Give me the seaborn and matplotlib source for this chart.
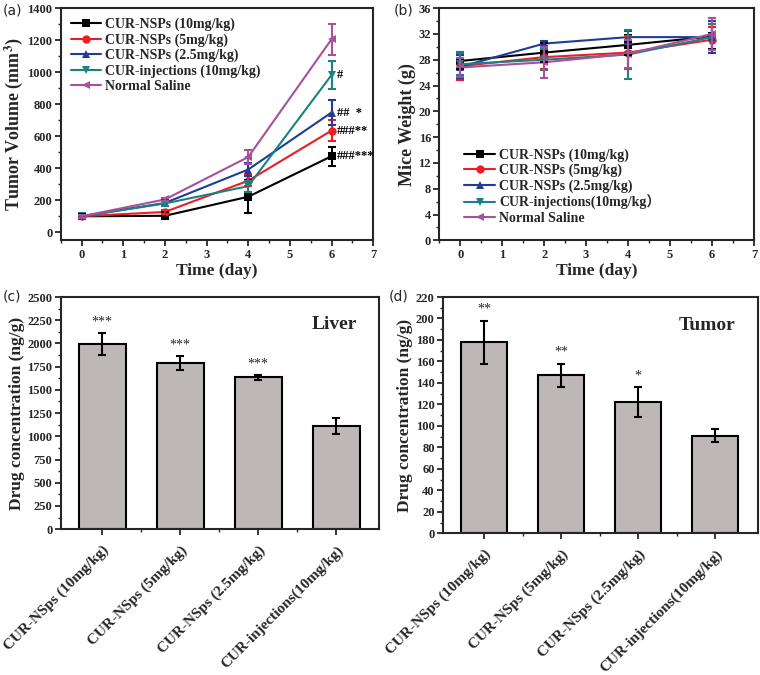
import numpy as np
import pandas as pd
import seaborn as sns
import matplotlib.pyplot as plt
from matplotlib.ticker import MultipleLocator

# data
days = [0, 2, 4, 6]
groups = ['CUR-NSPs (10mg/kg)', 'CUR-NSPs (5mg/kg)', 'CUR-NSPs (2.5mg/kg)',
          'CUR-injections (10mg/kg)', 'Normal Saline']
groups_b = ['CUR-NSPs (10mg/kg)', 'CUR-NSPs (5mg/kg)', 'CUR-NSPs (2.5mg/kg)',
            'CUR-injections(10mg/kg\uff09', 'Normal Saline']
colors = ['#000000', '#ee1c25', '#1f3d96', '#1a8282', '#a84f9e']
markers = ['s', 'o', '^', 'v', '<']

tumor_vol = [[100, 103, 222, 475],
             [100, 127, 322, 635],
             [100, 183, 392, 748],
             [100, 180, 288, 982],
             [100, 205, 470, 1205]]
tumor_err = [[12, 22, 102, 58],
             [10, 15, 35, 68],
             [10, 18, 40, 75],
             [10, 15, 35, 88],
             [10, 12, 42, 95]]
annot_a = ['###***', '###**', '##  *', '#', '']

weight = [[27.8, 29.1, 30.3, 31.6],
          [27.0, 28.4, 29.1, 31.1],
          [26.9, 30.5, 31.5, 31.5],
          [27.3, 28.0, 28.8, 31.5],
          [26.8, 27.6, 28.9, 32.0]]
weight_err = [[1.3, 1.5, 1.5, 2.0],
              [2.2, 1.8, 2.5, 2.0],
              [1.8, 0.4, 1.0, 2.5],
              [1.7, 1.6, 3.8, 2.0],
              [1.5, 2.4, 2.2, 2.5]]

bar_labels = ['CUR-NSps (10mg/kg)', 'CUR-NSps (5mg/kg)', 'CUR-NSps (2.5mg/kg)',
              'CUR-injections(10mg/kg)']
liver = [1995, 1790, 1635, 1110]
liver_err = [120, 75, 25, 90]
liver_sig = ['***', '***', '***', '']
tumor = [178, 147, 122, 91]
tumor_err2 = [20, 11, 14, 6]
tumor_sig = ['**', '**', '*', '']

sns.set_style('ticks')
plt.rcParams['font.family'] = ['Liberation Serif', 'Noto Sans CJK SC', 'DejaVu Serif']
plt.rcParams['font.weight'] = 'bold'
plt.rcParams['mathtext.fontset'] = 'stix'
plt.rcParams['axes.linewidth'] = 1.5
plt.rcParams['xtick.major.width'] = 1.3
plt.rcParams['ytick.major.width'] = 1.3
plt.rcParams['xtick.minor.width'] = 1.0
plt.rcParams['ytick.minor.width'] = 1.0
plt.rcParams['xtick.major.size'] = 4
plt.rcParams['ytick.major.size'] = 4
plt.rcParams['xtick.minor.size'] = 2
plt.rcParams['ytick.minor.size'] = 2

fig = plt.figure(figsize=(7.6, 6.75), dpi=100)
axa = fig.add_axes([0.080, 0.644, 0.411, 0.344])
axb = fig.add_axes([0.578, 0.644, 0.414, 0.344])
axc = fig.add_axes([0.080, 0.216, 0.419, 0.344])
axd = fig.add_axes([0.583, 0.210, 0.414, 0.350])


def bold_ticks(ax, axis='both'):
    labs = []
    if axis in ('both', 'x'):
        labs += ax.get_xticklabels()
    if axis in ('both', 'y'):
        labs += ax.get_yticklabels()
    for lab in labs:
        lab.set_fontweight('bold')
        lab.set_family(['Liberation Serif', 'DejaVu Serif'])


def line_panel(ax, values, errs, names, ylab):
    rows = []
    for g, vals in zip(names, values):
        for d, v in zip(days, vals):
            rows.append({'day': d, 'val': v, 'group': g})
    df = pd.DataFrame(rows)
    sns.lineplot(data=df, x='day', y='val', hue='group', style='group',
                 palette=colors, markers=markers, dashes=False, lw=1.5,
                 markersize=6, markeredgewidth=0, ax=ax)
    for i in range(len(names)):
        ax.errorbar(days, values[i], yerr=errs[i], fmt='none', ecolor=colors[i],
                    elinewidth=1.5, capsize=3, capthick=1.5)
    ax.set_xlim(-0.5, 7)
    ax.xaxis.set_major_locator(MultipleLocator(1))
    ax.xaxis.set_minor_locator(MultipleLocator(0.5))
    ax.set_xlabel('Time (day)', fontsize=12.5, fontweight='bold', labelpad=2)
    ax.set_ylabel(ylab, fontsize=13, fontweight='bold', labelpad=2)
    ax.tick_params(labelsize=9, pad=2)
    for s in ax.spines.values():
        s.set_visible(True)


line_panel(axa, tumor_vol, tumor_err, groups, 'Tumor Volume (mm$^\\mathbf{3}$)')
axa.set_ylim(-50, 1400)
axa.yaxis.set_major_locator(MultipleLocator(200))
axa.yaxis.set_minor_locator(MultipleLocator(100))
bold_ticks(axa)
axa.legend(loc='upper left', frameon=False, fontsize=10, handlelength=2.2,
           handletextpad=0.3, labelspacing=0.15, borderaxespad=0.3,
           bbox_to_anchor=(0.0, 1.0))
for i, t in enumerate(annot_a):
    if t:
        axa.text(6.12, tumor_vol[i][3], t, fontsize=9, va='center', ha='left',
                 color='black')

line_panel(axb, weight, weight_err, groups_b, 'Mice Weight (g)')
axb.set_ylim(0, 36)
axb.yaxis.set_major_locator(MultipleLocator(4))
axb.yaxis.set_minor_locator(MultipleLocator(2))
bold_ticks(axb)
axb.legend(loc='upper left', frameon=False, fontsize=10, handlelength=2.2,
           handletextpad=0.3, labelspacing=0.15, bbox_to_anchor=(0.04, 0.45))


def bar_panel(ax, vals, errs, sig, top, major, minor, name):
    sns.barplot(x=bar_labels, y=vals, color='#bdb7b7', edgecolor='black',
                linewidth=1.5, width=0.6, saturation=1, ax=ax)
    ax.errorbar(range(len(vals)), vals, yerr=errs, fmt='none', ecolor='black',
                elinewidth=1.5, capsize=3, capthick=1.5)
    for i, s in enumerate(sig):
        if s:
            ax.text(i, vals[i] + errs[i] + top * 0.02, s, ha='center', va='bottom',
                    fontsize=10, fontweight='normal')
    ax.set_xlim(-0.53, 3.55)
    ax.set_ylim(0, top)
    ax.yaxis.set_major_locator(MultipleLocator(major))
    ax.yaxis.set_minor_locator(MultipleLocator(minor))
    ax.set_xticks([0.5, 1.5, 2.5], minor=True)
    ax.set_xticks(range(len(vals)))
    ax.set_xticklabels(bar_labels, rotation=45, ha='right', rotation_mode='anchor',
                       fontsize=11, fontweight='bold')
    ax.set_ylabel('Drug concentration (ng/g)', fontsize=12.5, fontweight='bold',
                  labelpad=2)
    ax.tick_params(axis='y', labelsize=9, pad=2)
    ax.tick_params(axis='x', pad=6)
    bold_ticks(ax, 'y')
    ax.text(0.93, 0.88, name, transform=ax.transAxes, ha='right', va='center',
            fontsize=14, fontweight='bold')
    for s in ax.spines.values():
        s.set_visible(True)


bar_panel(axc, liver, liver_err, liver_sig, 2500, 250, 125, 'Liver')
bar_panel(axd, tumor, tumor_err2, tumor_sig, 220, 20, 10, 'Tumor')

for txt, x, y in [('(a)', 0.004, 0.985), ('(b)', 0.518, 0.985),
                  ('(c)', 0.004, 0.560), ('(d)', 0.512, 0.560)]:
    fig.text(x, y, txt, family='DejaVu Sans', fontweight='normal', fontsize=10,
             va='center', ha='left')

fig.savefig('out.png', dpi=100)
